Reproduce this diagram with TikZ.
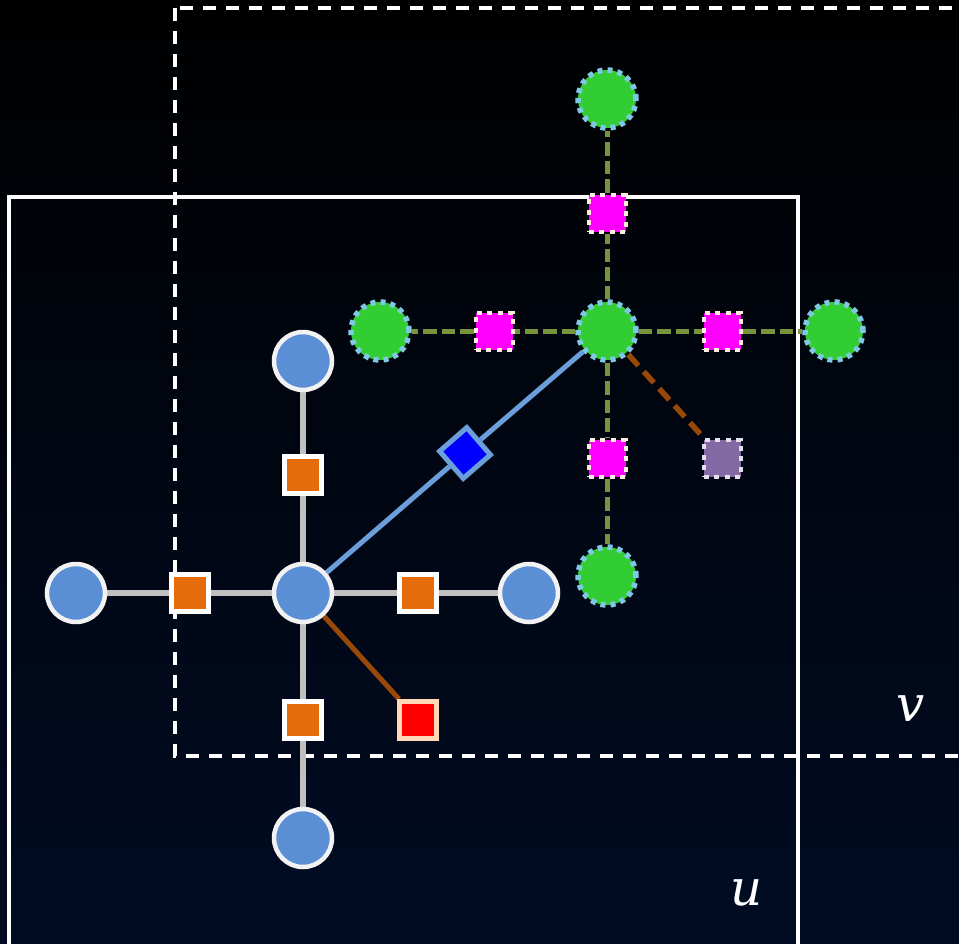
\documentclass[tikz,border=0pt]{standalone}
\usepackage{fontspec}
\setmainfont{DejaVu Serif}
\usetikzlibrary{shapes.geometric}

\definecolor{navybot}{RGB}{1,12,36}
\definecolor{bluefill}{RGB}{90,143,213}
\definecolor{blueline}{RGB}{106,159,219}
\definecolor{orangefill}{RGB}{228,108,10}
\definecolor{peach}{RGB}{255,216,184}
\definecolor{greenfill}{RGB}{50,205,50}
\definecolor{skydot}{RGB}{126,200,227}
\definecolor{linen}{RGB}{255,236,220}
\definecolor{pinkfill}{RGB}{255,0,255}
\definecolor{purplefill}{RGB}{132,106,164}
\definecolor{lavender}{RGB}{230,224,236}
\definecolor{olive}{RGB}{119,147,60}
\definecolor{rust}{RGB}{152,72,7}
\definecolor{edgegray}{RGB}{192,192,192}

\pgfdeclarelayer{bg}
\pgfdeclarelayer{edges}
\pgfsetlayers{bg,edges,main}

\begin{document}
\begin{tikzpicture}[x=1bp,y=-1bp,
  frame/.style={draw=white, line width=3.5bp},
  framedash/.style={frame, dash pattern=on 13bp off 10bp},
  bluenode/.style={circle, fill=bluefill, draw=white!95!black, line width=4.5bp, minimum size=58bp, inner sep=0pt},
  orangebox/.style={rectangle, fill=orangefill, draw=white, line width=5bp, minimum size=37bp, inner sep=0pt},
  redbox/.style={rectangle, fill=red, draw=peach, line width=5bp, minimum size=37bp, inner sep=0pt},
  bluediamond/.style={rectangle, fill=blue, draw=blueline, line width=5bp, minimum size=36bp, inner sep=0pt, rotate=41},
  greennode/.style={circle, fill=greenfill, draw=skydot, line width=5.5bp, dash pattern=on 5bp off 5bp, minimum size=58bp, inner sep=0pt},
  magentabox/.style={rectangle, fill=pinkfill, draw=linen, line width=4bp, dash pattern=on 5bp off 5.5bp, minimum size=37bp, inner sep=0pt},
  purplebox/.style={rectangle, fill=purplefill, draw=lavender, line width=4bp, dash pattern=on 5bp off 5.5bp, minimum size=37bp, inner sep=0pt},
  grayedge/.style={draw=edgegray, line width=5.5bp},
  brownedge/.style={draw=rust, line width=5bp},
  blueedge/.style={draw=blueline, line width=5bp},
  oliveedge/.style={draw=olive, line width=5bp, dash pattern=on 13.5bp off 5bp},
  browndash/.style={draw=rust, line width=5.5bp, dash pattern=on 15bp off 8bp},
  setlabel/.style={text=white, font=\itshape\fontsize{50}{60}\selectfont, inner sep=0pt}
]
\useasboundingbox (0,0) rectangle (959,944);
\clip (0,0) rectangle (959,944);

\begin{pgfonlayer}{bg}
  \shade[top color=black, bottom color=navybot] (0,0) rectangle (959,944);
  \draw[frame] (9,197) rectangle (798,990);
  \draw[framedash] (175,8) rectangle (1000,756);
\end{pgfonlayer}

% graph u
\node[bluenode] (bc) at (303,593) {};
\node[bluenode] (bt) at (303,361) {};
\node[bluenode] (bb) at (303,838) {};
\node[bluenode] (bl) at (76,593) {};
\node[bluenode] (br) at (529,593) {};
\node[orangebox] (ot) at (303,475) {};
\node[orangebox] (ob) at (303,720) {};
\node[orangebox] (ol) at (190,593) {};
\node[orangebox] (or) at (418,593) {};
\node[redbox] (rd) at (418,720) {};

% link between the two graphs
\node[bluediamond] (dm) at (465,453) {};

% graph v
\node[greennode] (gc) at (607,331) {};
\node[greennode] (gt) at (607,99) {};
\node[greennode] (gl) at (380,331) {};
\node[greennode] (gr) at (834,331) {};
\node[greennode] (gb) at (607,576) {};
\node[magentabox] (mt) at (607,213) {};
\node[magentabox] (ml) at (494,331) {};
\node[magentabox] (mr) at (722,331) {};
\node[magentabox] (mb) at (607,458) {};
\node[purplebox] (pp) at (722,458) {};

\begin{pgfonlayer}{edges}
  \draw[grayedge] (bc) -- (ot) -- (bt);
  \draw[grayedge] (bc) -- (ob) -- (bb);
  \draw[grayedge] (bc) -- (ol) -- (bl);
  \draw[grayedge] (bc) -- (or) -- (br);
  \draw[brownedge] (bc) -- (rd);
  \draw[blueedge] (bc) -- (dm) -- (gc);
  \draw[oliveedge] (gc) -- (mt) -- (gt);
  \draw[oliveedge] (gc) -- (ml) -- (gl);
  \draw[oliveedge] (gc) -- (mr) -- (gr);
  \draw[oliveedge] (gc) -- (mb) -- (gb);
  \draw[browndash] (gc) -- (pp);
\end{pgfonlayer}

\node[setlabel] (lv) at (911,709) {v};
\node[setlabel] (lu) at (747,893) {u};
\end{tikzpicture}
\end{document}
